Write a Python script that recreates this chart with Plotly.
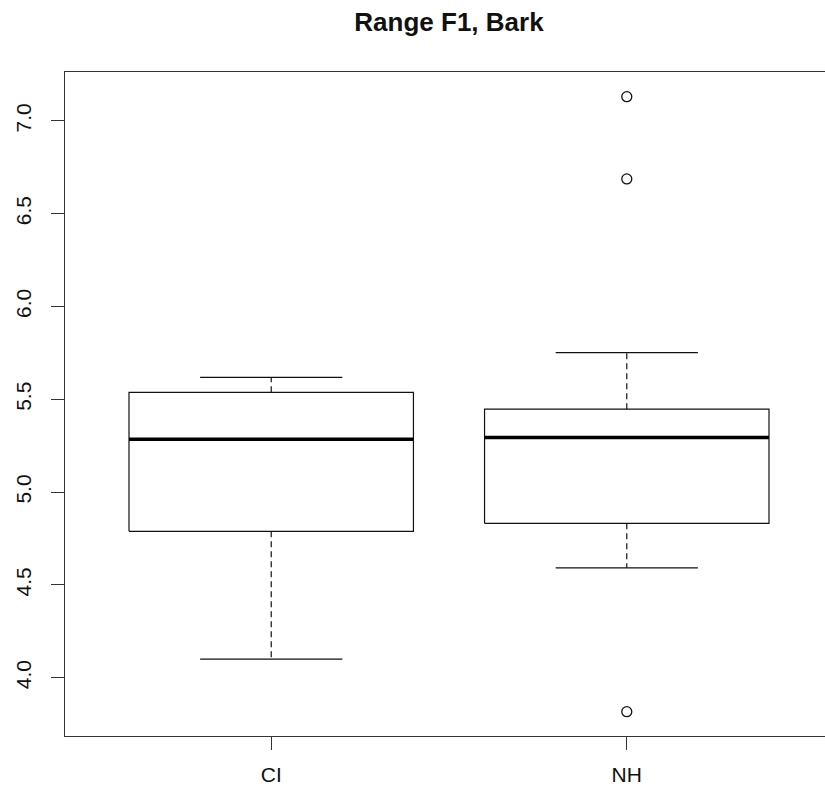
import plotly.graph_objects as go

# ---- data ----
groups = ["CI", "NH"]
lower_whisker = [4.100, 4.592]
q1 = [4.789, 4.832]
median = [5.285, 5.294]
q3 = [5.538, 5.447]
upper_whisker = [5.619, 5.752]
outliers = [[], [7.131, 6.688, 3.817]]

y_ticks = [4.0, 4.5, 5.0, 5.5, 6.0, 6.5, 7.0]
y_tick_text = ["4.0", "4.5", "5.0", "5.5", "6.0", "6.5", "7.0"]

# ---- style ----
BOX_HALF = 0.4
CAP_HALF = 0.2
INK = "#111111"
AXIS = "#333333"
FONT = "Liberation Sans, Arial, sans-serif"
FIG_W = 833  # R's plot region extends slightly past the 825px window (cropped)

fig = go.Figure()

for i, g in enumerate(groups):
    c = i + 1
    # box outline
    fig.add_trace(go.Scatter(
        x=[c - BOX_HALF, c + BOX_HALF, c + BOX_HALF, c - BOX_HALF, c - BOX_HALF],
        y=[q1[i], q1[i], q3[i], q3[i], q1[i]],
        mode="lines", line=dict(color=INK, width=1.2),
        hoverinfo="skip", showlegend=False))
    # median
    fig.add_trace(go.Scatter(
        x=[c - BOX_HALF, c + BOX_HALF], y=[median[i], median[i]],
        mode="lines", line=dict(color="black", width=3.5),
        hoverinfo="skip", showlegend=False))
    # whiskers (dashed)
    fig.add_trace(go.Scatter(
        x=[c, c, None, c, c],
        y=[q3[i], upper_whisker[i], None, q1[i], lower_whisker[i]],
        mode="lines", line=dict(color=INK, width=1.2, dash="6px,4px"),
        hoverinfo="skip", showlegend=False))
    # caps
    fig.add_trace(go.Scatter(
        x=[c - CAP_HALF, c + CAP_HALF, None, c - CAP_HALF, c + CAP_HALF],
        y=[upper_whisker[i], upper_whisker[i], None, lower_whisker[i], lower_whisker[i]],
        mode="lines", line=dict(color=INK, width=1.2),
        hoverinfo="skip", showlegend=False))
    # outliers
    if outliers[i]:
        fig.add_trace(go.Scatter(
            x=[c] * len(outliers[i]), y=outliers[i],
            mode="markers",
            marker=dict(symbol="circle-open", size=10, color=INK, line=dict(width=1.3)),
            hoverinfo="skip", showlegend=False))

fig.update_layout(
    width=FIG_W, height=787,
    margin=dict(l=65, r=0, t=72, b=51),
    paper_bgcolor="white", plot_bgcolor="white",
    font=dict(family=FONT, color="#111111"),
    title=dict(text="<b>Range F1, Bark</b>", x=449 / FIG_W, xanchor="center",
               y=1 - 22 / 787, yanchor="middle",
               font=dict(size=26, family=FONT, color="#111111")),
    xaxis=dict(range=[0.42, 2.58], tickvals=[1, 2], ticktext=groups,
               showgrid=False, zeroline=False, showline=True, linecolor=AXIS,
               linewidth=1.2, mirror=True, ticks="outside", ticklen=13, tickwidth=1.2,
               tickcolor=AXIS, tickfont=dict(size=21), ticklabelstandoff=7),
    yaxis=dict(range=[3.686, 7.264], tickvals=y_ticks, ticktext=y_tick_text,
               tickangle=-90, showgrid=False, zeroline=False, showline=True,
               linecolor=AXIS, linewidth=1.2, mirror=False, ticks="outside",
               ticklen=13, tickwidth=1.2, tickcolor=AXIS, tickfont=dict(size=21),
               ticklabelstandoff=12),
)

fig.write_html(
    "out.html",
    config={"displayModeBar": False},
    post_script="document.body.style.margin='0';document.body.style.overflow='hidden';"
                "document.documentElement.style.overflow='hidden';",
)
